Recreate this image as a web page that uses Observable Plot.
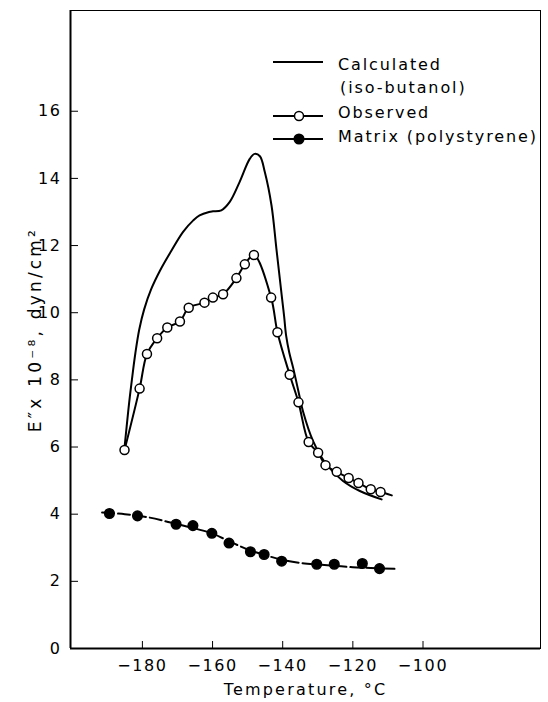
<!DOCTYPE html>
<html>
<head>
<meta charset="utf-8">
<script src="https://cdn.jsdelivr.net/npm/d3@7"></script>
<script src="https://cdn.jsdelivr.net/npm/@observablehq/plot@0.6"></script>
<style>
  html, body { margin: 0; padding: 0; background: white; }
  svg text { letter-spacing: 1.6px; }
</style>
</head>
<body>
<div id="chart"></div>
<script>
// Axis ticks
const xTicks = [-180, -160, -140, -120, -100];
const yTicks = [0, 2, 4, 6, 8, 10, 12, 14, 16];
const xDomain = [-200.5, -66.5];
const yDomain = [0, 19];

// Calculated (iso-butanol) curve
const calcT = [-185.1, -184.5, -183.8, -183.0, -182.0, -180.9, -179.5, -177.5, -175.0, -172.0, -168.4, -165.5, -163.7, -161.0, -159.9, -157.5, -155.1, -152.3, -149.4, -148.0, -146.5, -145.1, -143.2, -141.8, -140.3, -139.6, -139.0, -138.1, -137.0, -135.6, -134.2, -131.3, -127.5, -122.8, -118.0, -111.8];
const calcE = [5.98, 6.6, 7.3, 8.0, 8.8, 9.5, 10.1, 10.7, 11.25, 11.8, 12.41, 12.75, 12.90, 13.0, 13.02, 13.05, 13.30, 13.89, 14.58, 14.73, 14.66, 14.19, 13.20, 11.91, 10.53, 9.9, 9.3, 8.8, 8.35, 7.7, 7.06, 6.17, 5.48, 4.99, 4.69, 4.44];

// Observed points
const obsT = [-185.1, -180.8, -178.7, -175.8, -172.9, -169.3, -166.8, -162.3, -159.9, -157.0, -153.2, -150.8, -148.2, -143.3, -141.5, -138.0, -135.5, -132.6, -129.9, -127.8, -124.6, -121.2, -118.4, -114.9, -112.1];
const obsE = [5.91, 7.74, 8.77, 9.24, 9.56, 9.74, 10.15, 10.30, 10.45, 10.55, 11.03, 11.44, 11.72, 10.45, 9.42, 8.15, 7.33, 6.15, 5.83, 5.46, 5.26, 5.08, 4.93, 4.74, 4.66];
// Observed drawn curve end
const obsEndT = [-108.9];
const obsEndE = [4.56];

// Matrix (polystyrene) points
const matT = [-189.4, -181.4, -170.4, -165.6, -160.2, -155.3, -149.2, -145.3, -140.3, -130.3, -125.3, -117.3, -112.4];
const matE = [4.02, 3.95, 3.70, 3.66, 3.43, 3.14, 2.88, 2.80, 2.60, 2.51, 2.51, 2.53, 2.38];
// Matrix drawn curve
const matCurveT = [-191.5, -185, -178, -172, -166, -160, -155, -150, -145, -140, -135, -130, -125, -120, -115, -107.8];
const matCurveE = [4.05, 4.0, 3.9, 3.75, 3.6, 3.42, 3.18, 2.95, 2.78, 2.64, 2.55, 2.50, 2.46, 2.42, 2.40, 2.37];

const legendLabels = [["Calculated", "(iso-butanol)"], ["Observed"], ["Matrix (polystyrene)"]];

const calc = calcT.map((t, i) => ({t, e: calcE[i]}));
const obs = obsT.map((t, i) => ({t, e: obsE[i]}));
const obsCurve = obs.concat(obsEndT.map((t, i) => ({t, e: obsEndE[i]})));
const mat = matT.map((t, i) => ({t, e: matE[i]}));
const matCurve = matCurveT.map((t, i) => ({t, e: matCurveE[i]}));

const W = 548, H = 702, mL = 70, mR = 8, mT = 10, mB = 54;
const innerW = W - mL - mR, innerH = H - mT - mB;

const chart = Plot.plot({
  width: W, height: H,
  marginLeft: mL, marginRight: mR, marginTop: mT, marginBottom: mB,
  style: {fontFamily: "'DejaVu Sans', sans-serif", fontSize: "16px", background: "white", color: "black"},
  x: {domain: xDomain},
  y: {domain: yDomain},
  marks: [
    Plot.frame({strokeWidth: 1}),
    Plot.ruleX([xDomain[0]], {strokeWidth: 2}),
    Plot.ruleY([yDomain[0]], {strokeWidth: 2}),
    Plot.tickX(xTicks, {x: d => d, insetTop: innerH - 7, strokeWidth: 1}),
    Plot.tickY(yTicks, {y: d => d, insetRight: innerW - 8, strokeWidth: 1}),
    Plot.axisX(xTicks, {tickSize: 0, tickPadding: 11, label: "Temperature, °C", labelAnchor: "center", labelArrow: "none", labelOffset: 46}),
    Plot.axisY(yTicks, {tickSize: 0, tickPadding: 9, label: "E″x 10⁻⁸, dyn/cm²", labelAnchor: "center", labelArrow: "none", labelOffset: 42}),
    Plot.line(calc, {x: "t", y: "e", curve: "catmull-rom", stroke: "black", strokeWidth: 2}),
    Plot.line(obsCurve, {x: "t", y: "e", curve: "catmull-rom", stroke: "black", strokeWidth: 2}),
    Plot.dot(obs, {x: "t", y: "e", r: 4.5, fill: "white", stroke: "black", strokeWidth: 1.5}),
    Plot.line(matCurve, {x: "t", y: "e", curve: "catmull-rom", stroke: "black", strokeWidth: 2, strokeDasharray: "12,4"}),
    Plot.dot(mat, {x: "t", y: "e", r: 4.8, fill: "black", stroke: "black"})
  ]
});
document.getElementById("chart").appendChild(chart);

const svg = d3.select(chart);
// Widen the y-axis label like the reference lettering
svg.selectAll('g[aria-label="y-axis label"] text').style("font-size", "17px").style("letter-spacing", "3.2px");
svg.selectAll('g[aria-label="x-axis label"] text').style("letter-spacing", "2.2px");

// Legend (inside plot, top right)
const lg = svg.append("g").attr("font-family", "'DejaVu Sans', sans-serif").attr("font-size", 16).attr("text-anchor", "start");
const lx1 = 273, lx2 = 323, mx = 299, tx = 338;
const rows = [
  {ly: 62, base: [70, 93], marker: null},
  {ly: 116, base: [118], marker: "open"},
  {ly: 139, base: [142], marker: "filled"}
];
rows.forEach((r, i) => {
  lg.append("line").attr("x1", lx1).attr("x2", lx2).attr("y1", r.ly).attr("y2", r.ly)
    .attr("stroke", "black").attr("stroke-width", 2);
  if (r.marker) {
    lg.append("circle").attr("cx", mx).attr("cy", r.ly).attr("r", r.marker === "open" ? 4.5 : 4.8)
      .attr("fill", r.marker === "open" ? "white" : "black").attr("stroke", "black").attr("stroke-width", 1.5);
  }
  legendLabels[i].forEach((s, j) => {
    lg.append("text").attr("x", tx + (j > 0 ? 2 : 0)).attr("y", r.base[j])
      .style("letter-spacing", "1.9px").text(s);
  });
});
</script>
</body>
</html>
